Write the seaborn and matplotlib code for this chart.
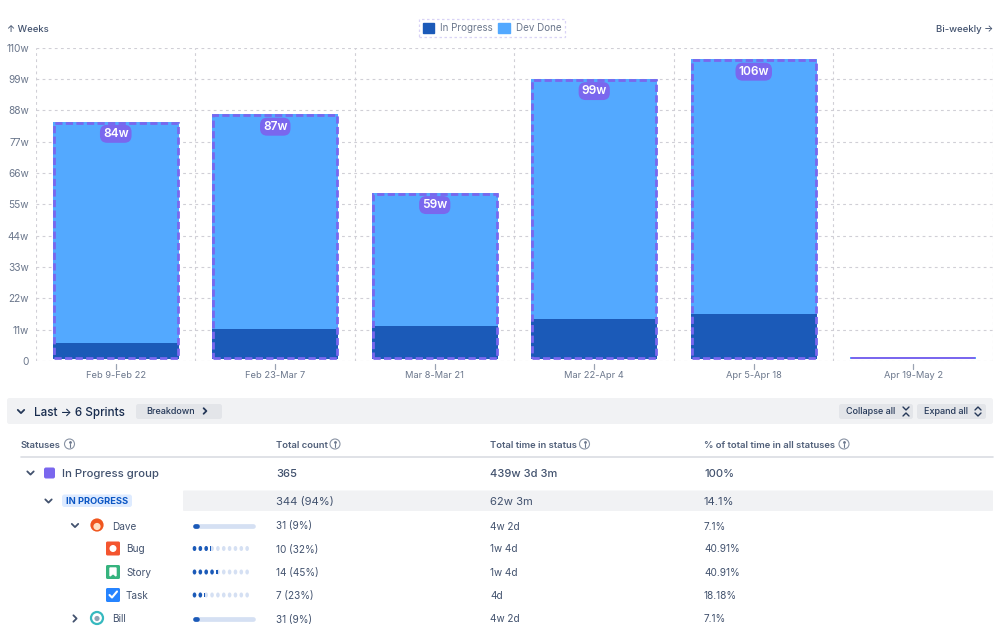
import matplotlib
matplotlib.use("Agg")
import matplotlib.pyplot as plt
from matplotlib.patches import Circle, FancyBboxPatch, Patch, Rectangle, Ellipse
import seaborn as sns

periods = ["Feb 9-Feb 22", "Feb 23-Mar 7", "Mar 8-Mar 21", "Mar 22-Apr 4", "Apr 5-Apr 18", "Apr 19-May 2"]
in_progress = [6.3, 11.2, 12.3, 14.9, 16.5, 0]
dev_done = [77.7, 75.3, 46.7, 84.1, 89.3, 1.4]
total_labels = ["84w", "87w", "59w", "99w", "106w", ""]
y_ticks = [0, 11, 22, 33, 44, 55, 66, 77, 88, 99, 110]
y_tick_labels = ["0", "11w", "22w", "33w", "44w", "55w", "66w", "77w", "88w", "99w", "110w"]

header_labels = ["Statuses", "Total count", "Total time in status", "% of total time in all statuses"]
group_row = ["In Progress group", "365", "439w 3d 3m", "100%"]
status_row = ["IN PROGRESS", "344 (94%)", "62w 3m", "14.1%"]
row_names = ["Dave", "Bug", "Story", "Task", "Bill"]
row_counts = ["31 (9%)", "10 (32%)", "14 (45%)", "7 (23%)", "31 (9%)"]
row_times = ["4w 2d", "1w 4d", "1w 4d", "4d", "4w 2d"]
row_shares = ["7.1%", "40.91%", "40.91%", "18.18%", "7.1%"]
row_pcts = [9, 32, 45, 23, 9]

DARK = "#1B5AB8"
LIGHT = "#53A9FF"
PURPLE = "#7A67EE"
GRID = "#D0CFD6"
TEXT = "#42526E"
MUTED = "#6B778C"
PANEL = "#F1F2F4"
BUTTON = "#E3E5E9"
TRACK = "#D5E0F3"
BASE = 0.55  # bars sit just above the zero line

sns.set_theme(style="white")
plt.rcParams["font.family"] = ["Inter", "DejaVu Sans"]

W, H = 999, 632
fig = plt.figure(figsize=(W / 100, H / 100), dpi=100, facecolor="white")
ax = fig.add_axes([36 / W, 1 - 361 / H, 957 / W, 313.5 / H])

totals = [a + b for a, b in zip(in_progress, dev_done)]
sns.barplot(x=periods, y=totals, color=LIGHT, saturation=1, width=0.79, linewidth=0, ax=ax)
sns.barplot(x=periods, y=in_progress, color=DARK, saturation=1, width=0.79, linewidth=0, ax=ax)
sns.barplot(x=periods, y=totals, color=PURPLE, saturation=1, width=0.775, fill=False, ax=ax)
for p in ax.patches[:12]:
    p.set_height(max(p.get_height() - BASE, 0))
    p.set_y(BASE)
for p in ax.patches[12:]:
    p.set_height(p.get_height() - BASE - 0.7)
    p.set_y(BASE + 0.35)
    p.set_linewidth(2)
    p.set_linestyle((0, (2.6, 1.2)))
# the empty last period is just a solid sliver
last = ax.patches[-1]
last.set_linestyle("-")
last.set_linewidth(0)
last.set_facecolor(PURPLE)
last.set_y(BASE)
last.set_height(totals[-1] - BASE)

ax.set_xlim(-0.5, 5.5)
ax.set_ylim(0, 110)
ax.set_yticks(y_ticks, y_tick_labels)
ax.set_xticks([i - 0.5 for i in range(7)], minor=True)
ax.set_axisbelow(True)
ax.grid(True, which="major", axis="y", color=GRID, linestyle=(0, (2.5, 3)), linewidth=0.8)
ax.grid(True, which="minor", axis="x", color=GRID, linestyle=(0, (2.5, 3)), linewidth=0.8)
ax.grid(False, which="major", axis="x")
sns.despine(ax=ax, left=True, bottom=True)
ax.tick_params(axis="y", length=0, pad=5, labelsize=7.3, labelcolor=MUTED)
ax.tick_params(axis="x", which="major", length=0, pad=7.5, labelsize=6.7, labelcolor=MUTED)
ax.tick_params(axis="x", which="minor", length=0)
ax.set_xlabel("")
ax.set_ylabel("")
for i in range(len(periods)):
    ax.plot([i, i], [-0.011, -0.027], color="#9AA3B2", lw=0.9, clip_on=False,
            transform=ax.get_xaxis_transform())

for i, label_text in enumerate(total_labels):
    if label_text:
        ax.annotate(label_text, (i, totals[i]), xytext=(0, -8.8), textcoords="offset points",
                    ha="center", va="center", color="white", fontsize=8.6, fontweight="semibold",
                    bbox=dict(boxstyle="round,pad=0.25,rounding_size=0.6", fc=PURPLE, ec="none"))

legend = ax.legend(handles=[Patch(color=DARK, label="In Progress"), Patch(color=LIGHT, label="Dev Done")],
                   loc="center", bbox_to_anchor=(492 / W, 1 - 28 / H), bbox_transform=fig.transFigure,
                   ncol=2, fontsize=7.1, labelcolor=MUTED, handlelength=1.2, handleheight=1.2,
                   handletextpad=0.6, columnspacing=0.5, borderpad=0.4, borderaxespad=0,
                   frameon=True, fancybox=False, framealpha=1)
legend.get_frame().set_edgecolor("#D9D3F6")
legend.get_frame().set_linestyle((0, (2, 2)))
legend.get_frame().set_linewidth(0.9)

# page furniture in pixel coordinates
ov = fig.add_axes([0, 0, 1, 1], zorder=-1)
ov.set_xlim(0, W)
ov.set_ylim(H, 0)
ov.axis("off")


def label(x, y, s, size=8, color=TEXT, weight="normal", ha="left"):
    ov.text(x, y, s, fontsize=size, color=color, fontweight=weight, ha=ha, va="center_baseline")


def box(x0, y0, x1, y1, color, r=2.5):
    ov.add_patch(FancyBboxPatch((x0 + r, y0 + r), x1 - x0 - 2 * r, y1 - y0 - 2 * r,
                                boxstyle=f"round,pad={r},rounding_size={r}", fc=color, ec="none"))


def chevron(x, y, down=True, s=3.2, color=TEXT):
    if down:
        ov.plot([x - s, x, x + s], [y - s / 2, y + s / 2, y - s / 2], color=color, lw=1.3)
    else:
        ov.plot([x - s / 2, x + s / 2, x - s / 2], [y - s, y, y + s], color=color, lw=1.3)


def info(x, y):
    ov.add_patch(Circle((x, y), 5, fc="none", ec="#8993A4", lw=0.8))
    ov.plot([x, x], [y - 0.5, y + 2.5], color="#6B778C", lw=0.8)
    ov.plot([x], [y - 2.4], marker="o", ms=1, color="#6B778C")


label(7, 28, "↑ Weeks", 6.8, TEXT, "medium")
label(993, 28, "Bi-weekly →", 6.9, TEXT, "medium", ha="right")

box(7, 398, 993, 424, PANEL)
chevron(21, 411.5, color="#253858")
label(34, 411.5, "Last → 6 Sprints", 8.4, "#172B4D", "medium")
box(136, 404, 222, 419, BUTTON)
label(146.5, 411, "Breakdown", 6.5, "#253858", "medium")
chevron(205, 411, down=False, s=2.8, color="#253858")
box(839, 404, 913, 419, BUTTON)
label(846, 411, "Collapse all", 6.5, "#253858", "medium")
ov.plot([903, 906, 909], [407, 410, 407], color="#253858", lw=1)
ov.plot([903, 906, 909], [416, 413, 416], color="#253858", lw=1)
box(917, 404, 986, 419, BUTTON)
label(924, 411, "Expand all", 6.5, "#253858", "medium")
ov.plot([975, 978, 981], [410, 407, 410], color="#253858", lw=1)
ov.plot([975, 978, 981], [413, 416, 413], color="#253858", lw=1)

header_x = [21, 276, 490, 704]
info_x = [69.5, 335, 584.5, 844]
for x, s, ix in zip(header_x, header_labels, info_x):
    label(x, 444.5, s, 6.8, "#505F79", "semibold")
    info(ix, 444)
ov.plot([21, 993], [457, 457], color="#DADDE3", lw=1.2)

chevron(30.5, 473)
box(44, 467.5, 55, 478.5, PURPLE, r=2)
label(62, 473, group_row[0], 8.2, TEXT, "medium")
for x, s in zip(header_x[1:], group_row[1:]):
    label(x, 473, s, 8, TEXT, "medium")

box(183, 490.5, 993, 511, PANEL, r=1)
chevron(48.5, 501)
box(62, 494.5, 132, 507, "#DEEBFF", r=2.5)
label(65.5, 501, status_row[0], 6.7, "#0B56C4", "bold")
for x, s in zip(header_x[1:], status_row[1:]):
    label(x, 501, s, 8.1, TEXT)

row_y = [525.5, 548.5, 572, 595, 618.5]
for name, y, count, spent, share, pct in zip(row_names, row_y, row_counts, row_times, row_shares, row_pcts):
    if name in ("Dave", "Bill"):
        label(112, y, name, 7.2, TEXT)
        ov.plot([195, 253], [y, y], color=TRACK, lw=3.4, solid_capstyle="round")
        ov.plot([195, 193 + 62 * pct / 100 - 2], [y, y], color=DARK, lw=3.4, solid_capstyle="round")
    else:
        label(126, y, name, 7.2, TEXT)
        filled = pct / 10
        for d in range(10):
            cx = 194.5 + d * 5.85
            ov.add_patch(Ellipse((cx, y), 3.6, 5, fc=TRACK, ec="none"))
            if d + 1 <= filled:
                ov.add_patch(Ellipse((cx, y), 3.6, 5, fc=DARK, ec="none"))
            elif d < filled:
                ov.add_patch(Rectangle((cx - 1.8, y - 2.2), 3.6 * (filled - d), 4.4, fc=DARK, ec="none"))
    label(276, y, count, 7.2, TEXT)
    label(490, y, spent, 7.2, TEXT)
    label(704, y, share, 7.2, TEXT)

# avatars and issue type icons
chevron(75, 525.5)
ov.add_patch(Circle((97, 525), 6.6, fc="#F0561E", ec="none"))
ov.add_patch(Circle((97, 526.5), 3.6, fc="#FFE0C2", ec="none"))
chevron(75, 618.5, down=False)
ov.add_patch(Circle((97, 618), 6, fc="white", ec="#36B9BF", lw=1.6))
ov.add_patch(Circle((97, 618.5), 2.6, fc="#8FA3B5", ec="none"))

box(106, 541.5, 120, 555.5, "#F4552F", r=1.5)
ov.add_patch(Circle((113, 548.5), 3.5, fc="white", ec="none"))
box(106, 565, 120, 579, "#36B37E", r=1.5)
ov.fill([110, 116, 116, 113, 110], [568, 568, 576, 573.5, 576], color="white")
box(106, 588, 120, 602, "#2684FF", r=1.5)
ov.plot([109.5, 112, 117], [595, 597.5, 591.5], color="white", lw=1.5)

fig.savefig("out.png", dpi=100)
